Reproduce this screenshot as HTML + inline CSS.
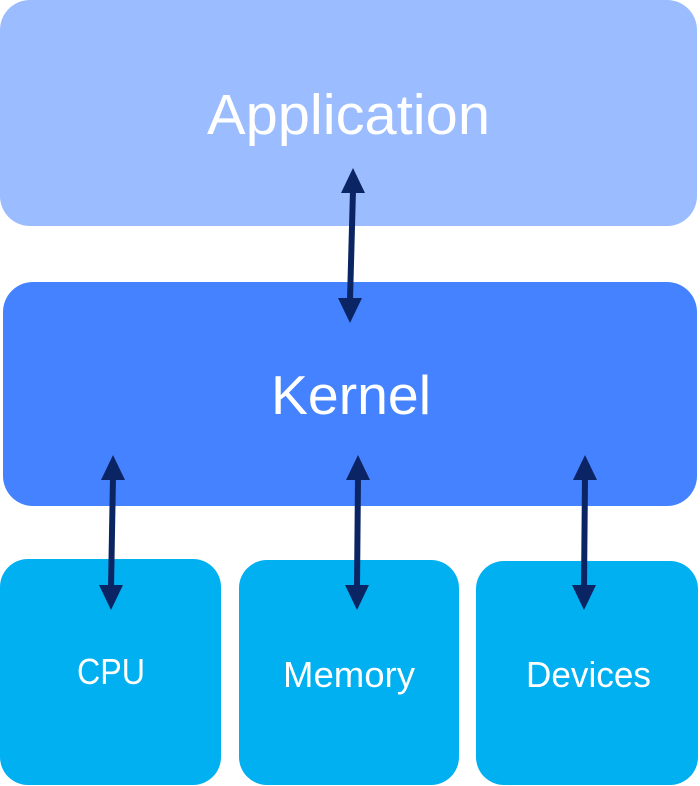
<!DOCTYPE html>
<html><head><meta charset="utf-8"><style>html,body{margin:0;padding:0;background:#fff}svg{display:block}</style></head>
<body>
<svg width="700" height="786" viewBox="0 0 700 786" xmlns="http://www.w3.org/2000/svg">
<defs>
<marker id="h" markerWidth="8" markerHeight="8" refX="0" refY="4" orient="auto" markerUnits="userSpaceOnUse" viewBox="0 0 8 8"></marker>
</defs>
<rect x="0" y="0" width="697" height="226" rx="30" fill="#9bbcff"/>
<rect x="3" y="282" width="694" height="224" rx="30" fill="#4582ff"/>
<rect x="0" y="559" width="221" height="226" rx="28" fill="#00b0f0"/>
<rect x="239" y="560" width="220" height="225" rx="28" fill="#00b0f0"/>
<rect x="476" y="561" width="222" height="224" rx="28" fill="#00b0f0"/>
<g font-family="Liberation Sans, sans-serif" fill="#fff" text-anchor="start">
<text x="207" y="134" font-size="57" textLength="283" lengthAdjust="spacingAndGlyphs">Application</text>
<text x="271" y="414" font-size="55" textLength="160" lengthAdjust="spacingAndGlyphs">Kernel</text>
<text x="77" y="684" font-size="36" textLength="68" lengthAdjust="spacingAndGlyphs">CPU</text>
<text x="283" y="687" font-size="36" textLength="132" lengthAdjust="spacingAndGlyphs">Memory</text>
<text x="526" y="687" font-size="36" textLength="125" lengthAdjust="spacingAndGlyphs">Devices</text>
</g>
<g stroke="#0b2463" stroke-width="6" fill="#0b2463">
<line x1="353" y1="190" x2="350" y2="300"/>
<line x1="113" y1="477" x2="111" y2="588"/>
<line x1="358" y1="477" x2="357" y2="588"/>
<line x1="585" y1="477" x2="584" y2="588"/>
</g>
<g fill="#0b2463">
<polygon points="353,168 341,193 365,193"/>
<polygon points="350,323 338,298 362,298"/>
<polygon points="113,455 101,480 125,480"/>
<polygon points="111,610 99,585 123,585"/>
<polygon points="358,455 346,480 370,480"/>
<polygon points="357,610 345,585 369,585"/>
<polygon points="585,455 573,480 597,480"/>
<polygon points="584,610 572,585 596,585"/>
</g>
</svg>
</body></html>
